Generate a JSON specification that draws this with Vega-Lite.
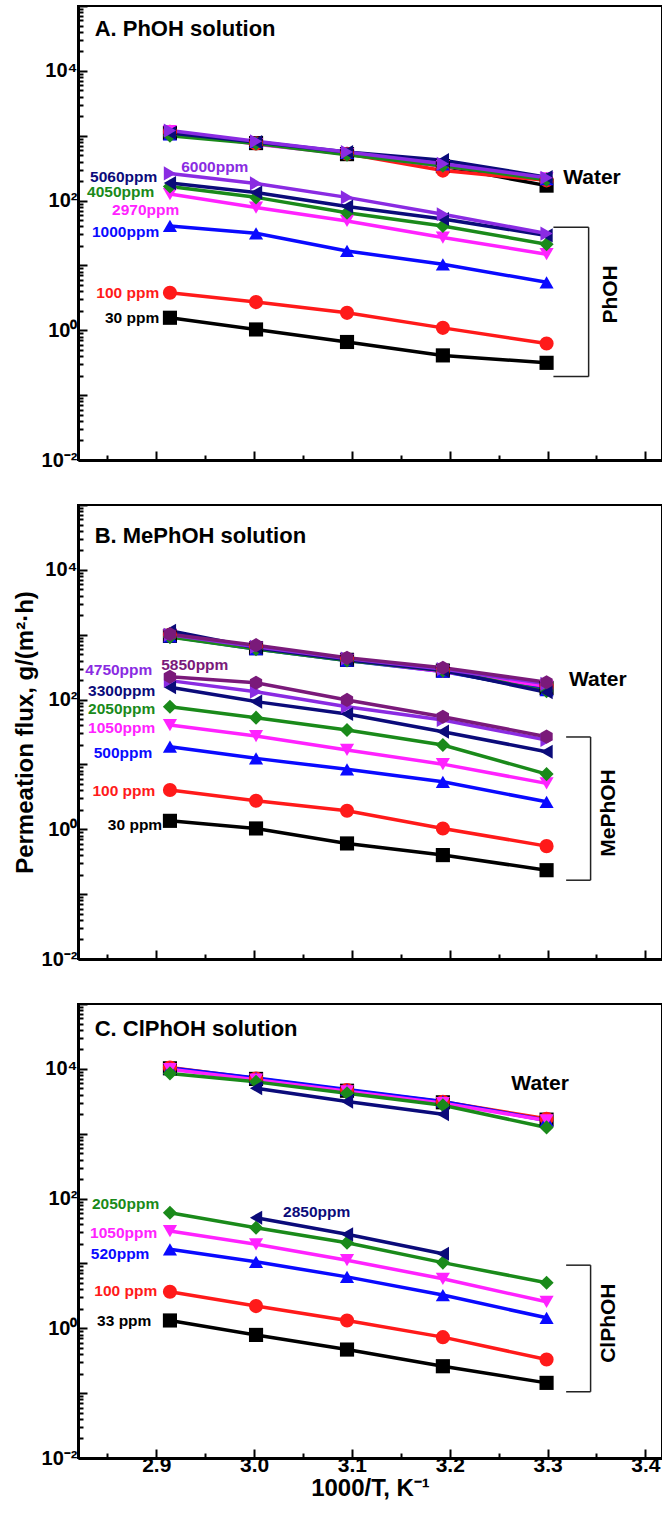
{
"$schema": "https://vega.github.io/schema/vega-lite/v6.json",
"padding": {"left": 12, "top": 4, "right": 0, "bottom": 0},
"spacing": 32,
"config": {
  "view": {"stroke": "black", "strokeWidth": 2},
  "axis": {"grid": false, "domainColor": "black", "domainWidth": 3, "tickColor": "black", "tickWidth": 2, "labelColor": "black", "titleColor": "black", "labelFont": "Liberation Sans", "titleFont": "Liberation Sans", "labelFontWeight": "bold", "titleFontWeight": "bold", "minExtent": 0},
  "text": {"font": "Liberation Sans", "fontWeight": "bold"}
},
"datasets": {
"pts": [
{"p":"A","c":"30 ppm","k":"s","x":2.914,"f":1.56},{"p":"A","c":"30 ppm","k":"s","x":3.002,"f":1.03},{"p":"A","c":"30 ppm","k":"s","x":3.095,"f":0.66},{"p":"A","c":"30 ppm","k":"s","x":3.193,"f":0.41},{"p":"A","c":"30 ppm","k":"s","x":3.299,"f":0.315},
{"p":"A","c":"100 ppm","k":"s","x":2.914,"f":3.79},{"p":"A","c":"100 ppm","k":"s","x":3.002,"f":2.72},{"p":"A","c":"100 ppm","k":"s","x":3.095,"f":1.86},{"p":"A","c":"100 ppm","k":"s","x":3.193,"f":1.09},{"p":"A","c":"100 ppm","k":"s","x":3.299,"f":0.625},
{"p":"A","c":"1000ppm","k":"s","x":2.914,"f":40.6},{"p":"A","c":"1000ppm","k":"s","x":3.002,"f":31.3},{"p":"A","c":"1000ppm","k":"s","x":3.095,"f":16.7},{"p":"A","c":"1000ppm","k":"s","x":3.193,"f":10.4},{"p":"A","c":"1000ppm","k":"s","x":3.299,"f":5.5},
{"p":"A","c":"2970ppm","k":"s","x":2.914,"f":126},{"p":"A","c":"2970ppm","k":"s","x":3.002,"f":78},{"p":"A","c":"2970ppm","k":"s","x":3.095,"f":48.5},{"p":"A","c":"2970ppm","k":"s","x":3.193,"f":26.9},{"p":"A","c":"2970ppm","k":"s","x":3.299,"f":14.9},
{"p":"A","c":"4050ppm","k":"s","x":2.914,"f":165},{"p":"A","c":"4050ppm","k":"s","x":3.002,"f":112},{"p":"A","c":"4050ppm","k":"s","x":3.095,"f":65},{"p":"A","c":"4050ppm","k":"s","x":3.193,"f":40.6},{"p":"A","c":"4050ppm","k":"s","x":3.299,"f":21.2},
{"p":"A","c":"5060ppm","k":"s","x":2.914,"f":186},{"p":"A","c":"5060ppm","k":"s","x":3.002,"f":133},{"p":"A","c":"5060ppm","k":"s","x":3.095,"f":81},{"p":"A","c":"5060ppm","k":"s","x":3.193,"f":52},{"p":"A","c":"5060ppm","k":"s","x":3.299,"f":29},
{"p":"A","c":"6000ppm","k":"s","x":2.914,"f":262},{"p":"A","c":"6000ppm","k":"s","x":3.002,"f":184},{"p":"A","c":"6000ppm","k":"s","x":3.095,"f":112},{"p":"A","c":"6000ppm","k":"s","x":3.193,"f":61.6},{"p":"A","c":"6000ppm","k":"s","x":3.299,"f":31},
{"p":"A","c":"30 ppm","k":"w","x":2.914,"f":1100},{"p":"A","c":"30 ppm","k":"w","x":3.002,"f":770},{"p":"A","c":"30 ppm","k":"w","x":3.095,"f":520},{"p":"A","c":"30 ppm","k":"w","x":3.193,"f":340},{"p":"A","c":"30 ppm","k":"w","x":3.299,"f":170},
{"p":"A","c":"100 ppm","k":"w","x":2.914,"f":1150},{"p":"A","c":"100 ppm","k":"w","x":3.002,"f":760},{"p":"A","c":"100 ppm","k":"w","x":3.095,"f":525},{"p":"A","c":"100 ppm","k":"w","x":3.193,"f":290},{"p":"A","c":"100 ppm","k":"w","x":3.299,"f":205},
{"p":"A","c":"1000ppm","k":"w","x":2.914,"f":1050},{"p":"A","c":"1000ppm","k":"w","x":3.002,"f":800},{"p":"A","c":"1000ppm","k":"w","x":3.095,"f":545},{"p":"A","c":"1000ppm","k":"w","x":3.193,"f":360},{"p":"A","c":"1000ppm","k":"w","x":3.299,"f":215},
{"p":"A","c":"2970ppm","k":"w","x":2.914,"f":1180},{"p":"A","c":"2970ppm","k":"w","x":3.002,"f":740},{"p":"A","c":"2970ppm","k":"w","x":3.095,"f":520},{"p":"A","c":"2970ppm","k":"w","x":3.193,"f":340},{"p":"A","c":"2970ppm","k":"w","x":3.299,"f":220},
{"p":"A","c":"4050ppm","k":"w","x":2.914,"f":1000},{"p":"A","c":"4050ppm","k":"w","x":3.002,"f":760},{"p":"A","c":"4050ppm","k":"w","x":3.095,"f":510},{"p":"A","c":"4050ppm","k":"w","x":3.193,"f":345},{"p":"A","c":"4050ppm","k":"w","x":3.299,"f":210},
{"p":"A","c":"5060ppm","k":"w","x":2.914,"f":1100},{"p":"A","c":"5060ppm","k":"w","x":3.002,"f":800},{"p":"A","c":"5060ppm","k":"w","x":3.095,"f":560},{"p":"A","c":"5060ppm","k":"w","x":3.193,"f":420},{"p":"A","c":"5060ppm","k":"w","x":3.299,"f":230},
{"p":"A","c":"6000ppm","k":"w","x":2.914,"f":1200},{"p":"A","c":"6000ppm","k":"w","x":3.002,"f":820},{"p":"A","c":"6000ppm","k":"w","x":3.095,"f":560},{"p":"A","c":"6000ppm","k":"w","x":3.193,"f":370},{"p":"A","c":"6000ppm","k":"w","x":3.299,"f":225},
{"p":"B","c":"30 ppm","k":"s","x":2.914,"f":1.35},{"p":"B","c":"30 ppm","k":"s","x":3.002,"f":1.03},{"p":"B","c":"30 ppm","k":"s","x":3.095,"f":0.605},{"p":"B","c":"30 ppm","k":"s","x":3.193,"f":0.40},{"p":"B","c":"30 ppm","k":"s","x":3.299,"f":0.234},
{"p":"B","c":"100 ppm","k":"s","x":2.914,"f":4.03},{"p":"B","c":"100 ppm","k":"s","x":3.002,"f":2.75},{"p":"B","c":"100 ppm","k":"s","x":3.095,"f":1.93},{"p":"B","c":"100 ppm","k":"s","x":3.193,"f":1.03},{"p":"B","c":"100 ppm","k":"s","x":3.299,"f":0.55},
{"p":"B","c":"500ppm","k":"s","x":2.914,"f":18.8},{"p":"B","c":"500ppm","k":"s","x":3.002,"f":12.4},{"p":"B","c":"500ppm","k":"s","x":3.095,"f":8.4},{"p":"B","c":"500ppm","k":"s","x":3.193,"f":5.4},{"p":"B","c":"500ppm","k":"s","x":3.299,"f":2.65},
{"p":"B","c":"1050ppm","k":"s","x":2.914,"f":40.5},{"p":"B","c":"1050ppm","k":"s","x":3.002,"f":27.4},{"p":"B","c":"1050ppm","k":"s","x":3.095,"f":16.7},{"p":"B","c":"1050ppm","k":"s","x":3.193,"f":10.1},{"p":"B","c":"1050ppm","k":"s","x":3.299,"f":5.1},
{"p":"B","c":"2050ppm","k":"s","x":2.914,"f":77.6},{"p":"B","c":"2050ppm","k":"s","x":3.002,"f":52.6},{"p":"B","c":"2050ppm","k":"s","x":3.095,"f":34},{"p":"B","c":"2050ppm","k":"s","x":3.193,"f":19.9},{"p":"B","c":"2050ppm","k":"s","x":3.299,"f":7.1},
{"p":"B","c":"3300ppm","k":"s","x":2.914,"f":155},{"p":"B","c":"3300ppm","k":"s","x":3.002,"f":93},{"p":"B","c":"3300ppm","k":"s","x":3.095,"f":60},{"p":"B","c":"3300ppm","k":"s","x":3.193,"f":32},{"p":"B","c":"3300ppm","k":"s","x":3.299,"f":15.7},
{"p":"B","c":"4750ppm","k":"s","x":2.914,"f":196},{"p":"B","c":"4750ppm","k":"s","x":3.002,"f":132},{"p":"B","c":"4750ppm","k":"s","x":3.095,"f":77.6},{"p":"B","c":"4750ppm","k":"s","x":3.193,"f":48.4},{"p":"B","c":"4750ppm","k":"s","x":3.299,"f":23.8},
{"p":"B","c":"5850ppm","k":"s","x":2.914,"f":225},{"p":"B","c":"5850ppm","k":"s","x":3.002,"f":182},{"p":"B","c":"5850ppm","k":"s","x":3.095,"f":98.7},{"p":"B","c":"5850ppm","k":"s","x":3.193,"f":54.4},{"p":"B","c":"5850ppm","k":"s","x":3.299,"f":26.8},
{"p":"B","c":"30 ppm","k":"w","x":2.914,"f":960},{"p":"B","c":"30 ppm","k":"w","x":3.002,"f":620},{"p":"B","c":"30 ppm","k":"w","x":3.095,"f":410},{"p":"B","c":"30 ppm","k":"w","x":3.193,"f":280},{"p":"B","c":"30 ppm","k":"w","x":3.299,"f":150},
{"p":"B","c":"100 ppm","k":"w","x":2.914,"f":1000},{"p":"B","c":"100 ppm","k":"w","x":3.002,"f":650},{"p":"B","c":"100 ppm","k":"w","x":3.095,"f":420},{"p":"B","c":"100 ppm","k":"w","x":3.193,"f":280},{"p":"B","c":"100 ppm","k":"w","x":3.299,"f":160},
{"p":"B","c":"500ppm","k":"w","x":2.914,"f":940},{"p":"B","c":"500ppm","k":"w","x":3.002,"f":600},{"p":"B","c":"500ppm","k":"w","x":3.095,"f":400},{"p":"B","c":"500ppm","k":"w","x":3.193,"f":270},{"p":"B","c":"500ppm","k":"w","x":3.299,"f":140},
{"p":"B","c":"1050ppm","k":"w","x":2.914,"f":980},{"p":"B","c":"1050ppm","k":"w","x":3.002,"f":630},{"p":"B","c":"1050ppm","k":"w","x":3.095,"f":410},{"p":"B","c":"1050ppm","k":"w","x":3.193,"f":270},{"p":"B","c":"1050ppm","k":"w","x":3.299,"f":160},
{"p":"B","c":"2050ppm","k":"w","x":2.914,"f":920},{"p":"B","c":"2050ppm","k":"w","x":3.002,"f":600},{"p":"B","c":"2050ppm","k":"w","x":3.095,"f":400},{"p":"B","c":"2050ppm","k":"w","x":3.193,"f":280},{"p":"B","c":"2050ppm","k":"w","x":3.299,"f":135},
{"p":"B","c":"3300ppm","k":"w","x":2.914,"f":1150},{"p":"B","c":"3300ppm","k":"w","x":3.002,"f":630},{"p":"B","c":"3300ppm","k":"w","x":3.095,"f":410},{"p":"B","c":"3300ppm","k":"w","x":3.193,"f":280},{"p":"B","c":"3300ppm","k":"w","x":3.299,"f":130},
{"p":"B","c":"4750ppm","k":"w","x":2.914,"f":1000},{"p":"B","c":"4750ppm","k":"w","x":3.002,"f":650},{"p":"B","c":"4750ppm","k":"w","x":3.095,"f":430},{"p":"B","c":"4750ppm","k":"w","x":3.193,"f":295},{"p":"B","c":"4750ppm","k":"w","x":3.299,"f":175},
{"p":"B","c":"5850ppm","k":"w","x":2.914,"f":1020},{"p":"B","c":"5850ppm","k":"w","x":3.002,"f":690},{"p":"B","c":"5850ppm","k":"w","x":3.095,"f":440},{"p":"B","c":"5850ppm","k":"w","x":3.193,"f":310},{"p":"B","c":"5850ppm","k":"w","x":3.299,"f":185},
{"p":"C","c":"33 ppm","k":"s","x":2.914,"f":1.32},{"p":"C","c":"33 ppm","k":"s","x":3.002,"f":0.79},{"p":"C","c":"33 ppm","k":"s","x":3.095,"f":0.47},{"p":"C","c":"33 ppm","k":"s","x":3.193,"f":0.26},{"p":"C","c":"33 ppm","k":"s","x":3.299,"f":0.144},
{"p":"C","c":"100 ppm","k":"s","x":2.914,"f":3.66},{"p":"C","c":"100 ppm","k":"s","x":3.002,"f":2.2},{"p":"C","c":"100 ppm","k":"s","x":3.095,"f":1.32},{"p":"C","c":"100 ppm","k":"s","x":3.193,"f":0.73},{"p":"C","c":"100 ppm","k":"s","x":3.299,"f":0.33},
{"p":"C","c":"520ppm","k":"s","x":2.914,"f":16.5},{"p":"C","c":"520ppm","k":"s","x":3.002,"f":10.6},{"p":"C","c":"520ppm","k":"s","x":3.095,"f":6.2},{"p":"C","c":"520ppm","k":"s","x":3.193,"f":3.25},{"p":"C","c":"520ppm","k":"s","x":3.299,"f":1.45},
{"p":"C","c":"1050ppm","k":"s","x":2.914,"f":31.6},{"p":"C","c":"1050ppm","k":"s","x":3.002,"f":19.7},{"p":"C","c":"1050ppm","k":"s","x":3.095,"f":11.2},{"p":"C","c":"1050ppm","k":"s","x":3.193,"f":5.8},{"p":"C","c":"1050ppm","k":"s","x":3.299,"f":2.56},
{"p":"C","c":"2050ppm","k":"s","x":2.914,"f":60.5},{"p":"C","c":"2050ppm","k":"s","x":3.002,"f":35.6},{"p":"C","c":"2050ppm","k":"s","x":3.095,"f":20.9},{"p":"C","c":"2050ppm","k":"s","x":3.193,"f":10.3},{"p":"C","c":"2050ppm","k":"s","x":3.299,"f":5.04},
{"p":"C","c":"2850ppm","k":"s","x":3.002,"f":50.7},{"p":"C","c":"2850ppm","k":"s","x":3.095,"f":28.1},{"p":"C","c":"2850ppm","k":"s","x":3.193,"f":14.1},
{"p":"C","c":"33 ppm","k":"w","x":2.914,"f":10200},{"p":"C","c":"33 ppm","k":"w","x":3.002,"f":7000},{"p":"C","c":"33 ppm","k":"w","x":3.095,"f":4600},{"p":"C","c":"33 ppm","k":"w","x":3.193,"f":3050},{"p":"C","c":"33 ppm","k":"w","x":3.299,"f":1650},
{"p":"C","c":"100 ppm","k":"w","x":2.914,"f":10500},{"p":"C","c":"100 ppm","k":"w","x":3.002,"f":7100},{"p":"C","c":"100 ppm","k":"w","x":3.095,"f":4700},{"p":"C","c":"100 ppm","k":"w","x":3.193,"f":3100},{"p":"C","c":"100 ppm","k":"w","x":3.299,"f":1700},
{"p":"C","c":"520ppm","k":"w","x":2.914,"f":10300},{"p":"C","c":"520ppm","k":"w","x":3.002,"f":7200},{"p":"C","c":"520ppm","k":"w","x":3.095,"f":4800},{"p":"C","c":"520ppm","k":"w","x":3.193,"f":3150},{"p":"C","c":"520ppm","k":"w","x":3.299,"f":1600},
{"p":"C","c":"1050ppm","k":"w","x":2.914,"f":9900},{"p":"C","c":"1050ppm","k":"w","x":3.002,"f":6800},{"p":"C","c":"1050ppm","k":"w","x":3.095,"f":4500},{"p":"C","c":"1050ppm","k":"w","x":3.193,"f":2950},{"p":"C","c":"1050ppm","k":"w","x":3.299,"f":1600},
{"p":"C","c":"2050ppm","k":"w","x":2.914,"f":8500},{"p":"C","c":"2050ppm","k":"w","x":3.002,"f":6300},{"p":"C","c":"2050ppm","k":"w","x":3.095,"f":4200},{"p":"C","c":"2050ppm","k":"w","x":3.193,"f":2750},{"p":"C","c":"2050ppm","k":"w","x":3.299,"f":1250},
{"p":"C","c":"2850ppm","k":"w","x":3.002,"f":5040},{"p":"C","c":"2850ppm","k":"w","x":3.095,"f":3130},{"p":"C","c":"2850ppm","k":"w","x":3.193,"f":2000}
],
"ann": [
{"p":"A","r":"r","c":"5060ppm","t":"5060ppm","x":2.901,"f":232},
{"p":"A","r":"r","c":"4050ppm","t":"4050ppm","x":2.898,"f":134},
{"p":"A","r":"r","c":"2970ppm","t":"2970ppm","x":2.9235,"f":71},
{"p":"A","r":"r","c":"1000ppm","t":"1000ppm","x":2.903,"f":32.8},
{"p":"A","r":"r","c":"100 ppm","t":"100 ppm","x":2.903,"f":3.7},
{"p":"A","r":"r","c":"30 ppm","t":"30 ppm","x":2.903,"f":1.52},
{"p":"A","r":"l","c":"6000ppm","t":"6000ppm","x":2.9255,"f":328},
{"p":"A","r":"w","t":"Water","x":3.316,"f":220},
{"p":"A","r":"g","t":"PhOH","x":3.365,"f":3.57},
{"p":"A","r":"t","t":"A. PhOH solution","x":2.837,"f":44000},
{"p":"B","r":"r","c":"4750ppm","t":"4750ppm","x":2.896,"f":287},
{"p":"B","r":"r","c":"3300ppm","t":"3300ppm","x":2.899,"f":137},
{"p":"B","r":"r","c":"2050ppm","t":"2050ppm","x":2.899,"f":70.8},
{"p":"B","r":"r","c":"1050ppm","t":"1050ppm","x":2.899,"f":36.1},
{"p":"B","r":"r","c":"500ppm","t":"500ppm","x":2.896,"f":15.2},
{"p":"B","r":"r","c":"100 ppm","t":"100 ppm","x":2.899,"f":3.93},
{"p":"B","r":"r","c":"30 ppm","t":"30 ppm","x":2.906,"f":1.16},
{"p":"B","r":"l","c":"5850ppm","t":"5850ppm","x":2.905,"f":342},
{"p":"B","r":"w","t":"Water","x":3.322,"f":200},
{"p":"B","r":"g","t":"MePhOH","x":3.363,"f":1.78},
{"p":"B","r":"t","t":"B. MePhOH solution","x":2.837,"f":33000},
{"p":"C","r":"r","c":"2050ppm","t":"2050ppm","x":2.903,"f":83.4},
{"p":"C","r":"r","c":"1050ppm","t":"1050ppm","x":2.901,"f":29.8},
{"p":"C","r":"r","c":"520ppm","t":"520ppm","x":2.893,"f":13.8},
{"p":"C","r":"r","c":"100 ppm","t":"100 ppm","x":2.901,"f":3.7},
{"p":"C","r":"r","c":"33 ppm","t":"33 ppm","x":2.895,"f":1.3},
{"p":"C","r":"l","c":"2850ppm","t":"2850ppm","x":3.0296,"f":62.8},
{"p":"C","r":"w","t":"Water","x":3.263,"f":5810},
{"p":"C","r":"g","t":"ClPhOH","x":3.363,"f":1.2},
{"p":"C","r":"t","t":"C. ClPhOH solution","x":2.837,"f":41000}
],
"br": [
{"p":"A","x":3.342,"x2":3.342,"f":38.8,"f2":0.193},{"p":"A","x":3.306,"x2":3.342,"f":38.8,"f2":38.8},{"p":"A","x":3.306,"x2":3.342,"f":0.193,"f2":0.193},
{"p":"B","x":3.344,"x2":3.344,"f":26.5,"f2":0.164},{"p":"B","x":3.319,"x2":3.344,"f":26.5,"f2":26.5},{"p":"B","x":3.319,"x2":3.344,"f":0.164,"f2":0.164},
{"p":"C","x":3.344,"x2":3.344,"f":9.4,"f2":0.105},{"p":"C","x":3.319,"x2":3.344,"f":9.4,"f2":9.4},{"p":"C","x":3.319,"x2":3.344,"f":0.105,"f2":0.105}
]
},
"vconcat": [
{
 "width": 584, "height": 454,
 "encoding": {
  "x": {"field": "x", "type": "quantitative", "scale": {"domain": [2.82, 3.417], "nice": false, "zero": false},
   "axis": {"title": null, "labels": false, "values": [2.85,2.9,2.95,3.0,3.05,3.1,3.15,3.2,3.25,3.3,3.35,3.4],
    "tickSize": {"condition": {"test": "abs(datum.value*10-round(datum.value*10))<0.001", "value": -9}, "value": -5}}},
  "y": {"field": "f", "type": "quantitative", "scale": {"type": "log", "domain": [0.01, 100000], "nice": false},
   "axis": {"title": null, "labelFontSize": 20, "labelPadding": 10,
    "values": [0.01,0.02,0.03,0.04,0.05,0.06,0.07,0.08,0.09,0.1,0.2,0.3,0.4,0.5,0.6,0.7,0.8,0.9,1,2,3,4,5,6,7,8,9,10,20,30,40,50,60,70,80,90,100,200,300,400,500,600,700,800,900,1000,2000,3000,4000,5000,6000,7000,8000,9000,10000,20000,30000,40000,50000,60000,70000,80000,90000,100000],
    "labelExpr": "datum.value==0.01?'10⁻²':datum.value==1?'10⁰':datum.value==100?'10²':datum.value==10000?'10⁴':''",
    "tickSize": {"condition": {"test": "abs(log(datum.value)/LN10-round(log(datum.value)/LN10))<0.001", "value": -9}, "value": -5}}}
 },
 "layer": [
  {"data": {"name": "pts"}, "transform": [{"filter": "datum.p=='A'"}], "mark": {"type": "line", "strokeWidth": 3.5},
   "encoding": {"color": {"field": "c", "type": "nominal", "legend": null, "scale": {"domain": ["30 ppm","33 ppm","100 ppm","1000ppm","500ppm","520ppm","2970ppm","1050ppm","4050ppm","2050ppm","5060ppm","3300ppm","2850ppm","6000ppm","4750ppm","5850ppm"], "range": ["#000000","#000000","#ff1a1a","#0a0aff","#0a0aff","#0a0aff","#ff22ff","#ff22ff","#1a8a1a","#1a8a1a","#0b0b7a","#0b0b7a","#0b0b7a","#8a2be2","#8a2be2","#7a1a7a"]}}, "detail": {"field": "k"}}},
  {"data": {"name": "pts"}, "transform": [{"filter": "datum.p=='A'"}], "mark": {"type": "point", "filled": true, "size": 200, "opacity": 1},
   "encoding": {"color": {"field": "c", "type": "nominal", "legend": null}, "shape": {"field": "c", "type": "nominal", "legend": null, "scale": {"domain": ["30 ppm","33 ppm","100 ppm","1000ppm","500ppm","520ppm","2970ppm","1050ppm","4050ppm","2050ppm","5060ppm","3300ppm","2850ppm","6000ppm","4750ppm","5850ppm"], "range": ["square","square","circle","triangle-up","triangle-up","triangle-up","triangle-down","triangle-down","diamond","diamond","triangle-left","triangle-left","triangle-left","triangle-right","triangle-right","M0,-1L0.866,-0.5L0.866,0.5L0,1L-0.866,0.5L-0.866,-0.5Z"]}}}},
  {"data": {"name": "br"}, "transform": [{"filter": "datum.p=='A'"}], "mark": {"type": "rule", "strokeWidth": 1.5, "color": "#222"},
   "encoding": {"x2": {"field": "x2"}, "y2": {"field": "f2"}}},
  {"data": {"name": "ann"}, "transform": [{"filter": "datum.p=='A' && datum.r=='r'"}], "mark": {"type": "text", "align": "right", "baseline": "middle", "fontSize": 15.5},
   "encoding": {"text": {"field": "t"}, "color": {"field": "c", "type": "nominal", "legend": null}}},
  {"data": {"name": "ann"}, "transform": [{"filter": "datum.p=='A' && datum.r=='l'"}], "mark": {"type": "text", "align": "left", "baseline": "middle", "fontSize": 15.5},
   "encoding": {"text": {"field": "t"}, "color": {"field": "c", "type": "nominal", "legend": null}}},
  {"data": {"name": "ann"}, "transform": [{"filter": "datum.p=='A' && datum.r=='w'"}], "mark": {"type": "text", "align": "left", "baseline": "middle", "fontSize": 21, "color": "black"},
   "encoding": {"text": {"field": "t"}}},
  {"data": {"name": "ann"}, "transform": [{"filter": "datum.p=='A' && datum.r=='g'"}], "mark": {"type": "text", "align": "center", "baseline": "middle", "fontSize": 21, "angle": 270, "color": "black"},
   "encoding": {"text": {"field": "t"}}},
  {"data": {"name": "ann"}, "transform": [{"filter": "datum.p=='A' && datum.r=='t'"}], "mark": {"type": "text", "align": "left", "baseline": "middle", "fontSize": 22, "color": "black"},
   "encoding": {"text": {"field": "t"}}}
 ]
},
{
 "width": 584, "height": 454,
 "encoding": {
  "x": {"field": "x", "type": "quantitative", "scale": {"domain": [2.82, 3.417], "nice": false, "zero": false},
   "axis": {"title": null, "labels": false, "values": [2.85,2.9,2.95,3.0,3.05,3.1,3.15,3.2,3.25,3.3,3.35,3.4],
    "tickSize": {"condition": {"test": "abs(datum.value*10-round(datum.value*10))<0.001", "value": -9}, "value": -5}}},
  "y": {"field": "f", "type": "quantitative", "scale": {"type": "log", "domain": [0.01, 100000], "nice": false},
   "axis": {"title": "Permeation flux, g/(m²·h)", "titleFontSize": 24, "titlePadding": 4, "labelFontSize": 20, "labelPadding": 10,
    "values": [0.01,0.02,0.03,0.04,0.05,0.06,0.07,0.08,0.09,0.1,0.2,0.3,0.4,0.5,0.6,0.7,0.8,0.9,1,2,3,4,5,6,7,8,9,10,20,30,40,50,60,70,80,90,100,200,300,400,500,600,700,800,900,1000,2000,3000,4000,5000,6000,7000,8000,9000,10000,20000,30000,40000,50000,60000,70000,80000,90000,100000],
    "labelExpr": "datum.value==0.01?'10⁻²':datum.value==1?'10⁰':datum.value==100?'10²':datum.value==10000?'10⁴':''",
    "tickSize": {"condition": {"test": "abs(log(datum.value)/LN10-round(log(datum.value)/LN10))<0.001", "value": -9}, "value": -5}}}
 },
 "layer": [
  {"data": {"name": "pts"}, "transform": [{"filter": "datum.p=='B'"}], "mark": {"type": "line", "strokeWidth": 3.5},
   "encoding": {"color": {"field": "c", "type": "nominal", "legend": null, "scale": {"domain": ["30 ppm","33 ppm","100 ppm","1000ppm","500ppm","520ppm","2970ppm","1050ppm","4050ppm","2050ppm","5060ppm","3300ppm","2850ppm","6000ppm","4750ppm","5850ppm"], "range": ["#000000","#000000","#ff1a1a","#0a0aff","#0a0aff","#0a0aff","#ff22ff","#ff22ff","#1a8a1a","#1a8a1a","#0b0b7a","#0b0b7a","#0b0b7a","#8a2be2","#8a2be2","#7a1a7a"]}}, "detail": {"field": "k"}}},
  {"data": {"name": "pts"}, "transform": [{"filter": "datum.p=='B'"}], "mark": {"type": "point", "filled": true, "size": 200, "opacity": 1},
   "encoding": {"color": {"field": "c", "type": "nominal", "legend": null}, "shape": {"field": "c", "type": "nominal", "legend": null, "scale": {"domain": ["30 ppm","33 ppm","100 ppm","1000ppm","500ppm","520ppm","2970ppm","1050ppm","4050ppm","2050ppm","5060ppm","3300ppm","2850ppm","6000ppm","4750ppm","5850ppm"], "range": ["square","square","circle","triangle-up","triangle-up","triangle-up","triangle-down","triangle-down","diamond","diamond","triangle-left","triangle-left","triangle-left","triangle-right","triangle-right","M0,-1L0.866,-0.5L0.866,0.5L0,1L-0.866,0.5L-0.866,-0.5Z"]}}}},
  {"data": {"name": "br"}, "transform": [{"filter": "datum.p=='B'"}], "mark": {"type": "rule", "strokeWidth": 1.5, "color": "#222"},
   "encoding": {"x2": {"field": "x2"}, "y2": {"field": "f2"}}},
  {"data": {"name": "ann"}, "transform": [{"filter": "datum.p=='B' && datum.r=='r'"}], "mark": {"type": "text", "align": "right", "baseline": "middle", "fontSize": 15.5},
   "encoding": {"text": {"field": "t"}, "color": {"field": "c", "type": "nominal", "legend": null}}},
  {"data": {"name": "ann"}, "transform": [{"filter": "datum.p=='B' && datum.r=='l'"}], "mark": {"type": "text", "align": "left", "baseline": "middle", "fontSize": 15.5},
   "encoding": {"text": {"field": "t"}, "color": {"field": "c", "type": "nominal", "legend": null}}},
  {"data": {"name": "ann"}, "transform": [{"filter": "datum.p=='B' && datum.r=='w'"}], "mark": {"type": "text", "align": "left", "baseline": "middle", "fontSize": 21, "color": "black"},
   "encoding": {"text": {"field": "t"}}},
  {"data": {"name": "ann"}, "transform": [{"filter": "datum.p=='B' && datum.r=='g'"}], "mark": {"type": "text", "align": "center", "baseline": "middle", "fontSize": 21, "angle": 270, "color": "black"},
   "encoding": {"text": {"field": "t"}}},
  {"data": {"name": "ann"}, "transform": [{"filter": "datum.p=='B' && datum.r=='t'"}], "mark": {"type": "text", "align": "left", "baseline": "middle", "fontSize": 22, "color": "black"},
   "encoding": {"text": {"field": "t"}}}
 ]
},
{
 "width": 584, "height": 454,
 "encoding": {
  "x": {"field": "x", "type": "quantitative", "scale": {"domain": [2.82, 3.417], "nice": false, "zero": false},
   "axis": {"title": "1000/T, K⁻¹", "titleFontSize": 24, "titlePadding": 1, "labelFontSize": 21, "labelPadding": 5, "values": [2.85,2.9,2.95,3.0,3.05,3.1,3.15,3.2,3.25,3.3,3.35,3.4],
    "labelExpr": "abs(datum.value*10-round(datum.value*10))<0.001 ? format(datum.value, '.1f') : ''",
    "tickSize": {"condition": {"test": "abs(datum.value*10-round(datum.value*10))<0.001", "value": -9}, "value": -5}}},
  "y": {"field": "f", "type": "quantitative", "scale": {"type": "log", "domain": [0.01, 100000], "nice": false},
   "axis": {"title": null, "labelFontSize": 20, "labelPadding": 10,
    "values": [0.01,0.02,0.03,0.04,0.05,0.06,0.07,0.08,0.09,0.1,0.2,0.3,0.4,0.5,0.6,0.7,0.8,0.9,1,2,3,4,5,6,7,8,9,10,20,30,40,50,60,70,80,90,100,200,300,400,500,600,700,800,900,1000,2000,3000,4000,5000,6000,7000,8000,9000,10000,20000,30000,40000,50000,60000,70000,80000,90000,100000],
    "labelExpr": "datum.value==0.01?'10⁻²':datum.value==1?'10⁰':datum.value==100?'10²':datum.value==10000?'10⁴':''",
    "tickSize": {"condition": {"test": "abs(log(datum.value)/LN10-round(log(datum.value)/LN10))<0.001", "value": -9}, "value": -5}}}
 },
 "layer": [
  {"data": {"name": "pts"}, "transform": [{"filter": "datum.p=='C'"}], "mark": {"type": "line", "strokeWidth": 3.5},
   "encoding": {"color": {"field": "c", "type": "nominal", "legend": null, "scale": {"domain": ["30 ppm","33 ppm","100 ppm","1000ppm","500ppm","520ppm","2970ppm","1050ppm","4050ppm","2050ppm","5060ppm","3300ppm","2850ppm","6000ppm","4750ppm","5850ppm"], "range": ["#000000","#000000","#ff1a1a","#0a0aff","#0a0aff","#0a0aff","#ff22ff","#ff22ff","#1a8a1a","#1a8a1a","#0b0b7a","#0b0b7a","#0b0b7a","#8a2be2","#8a2be2","#7a1a7a"]}}, "detail": {"field": "k"}}},
  {"data": {"name": "pts"}, "transform": [{"filter": "datum.p=='C'"}], "mark": {"type": "point", "filled": true, "size": 200, "opacity": 1},
   "encoding": {"color": {"field": "c", "type": "nominal", "legend": null}, "shape": {"field": "c", "type": "nominal", "legend": null, "scale": {"domain": ["30 ppm","33 ppm","100 ppm","1000ppm","500ppm","520ppm","2970ppm","1050ppm","4050ppm","2050ppm","5060ppm","3300ppm","2850ppm","6000ppm","4750ppm","5850ppm"], "range": ["square","square","circle","triangle-up","triangle-up","triangle-up","triangle-down","triangle-down","diamond","diamond","triangle-left","triangle-left","triangle-left","triangle-right","triangle-right","M0,-1L0.866,-0.5L0.866,0.5L0,1L-0.866,0.5L-0.866,-0.5Z"]}}}},
  {"data": {"name": "br"}, "transform": [{"filter": "datum.p=='C'"}], "mark": {"type": "rule", "strokeWidth": 1.5, "color": "#222"},
   "encoding": {"x2": {"field": "x2"}, "y2": {"field": "f2"}}},
  {"data": {"name": "ann"}, "transform": [{"filter": "datum.p=='C' && datum.r=='r'"}], "mark": {"type": "text", "align": "right", "baseline": "middle", "fontSize": 15.5},
   "encoding": {"text": {"field": "t"}, "color": {"field": "c", "type": "nominal", "legend": null}}},
  {"data": {"name": "ann"}, "transform": [{"filter": "datum.p=='C' && datum.r=='l'"}], "mark": {"type": "text", "align": "left", "baseline": "middle", "fontSize": 15.5},
   "encoding": {"text": {"field": "t"}, "color": {"field": "c", "type": "nominal", "legend": null}}},
  {"data": {"name": "ann"}, "transform": [{"filter": "datum.p=='C' && datum.r=='w'"}], "mark": {"type": "text", "align": "left", "baseline": "middle", "fontSize": 21, "color": "black"},
   "encoding": {"text": {"field": "t"}}},
  {"data": {"name": "ann"}, "transform": [{"filter": "datum.p=='C' && datum.r=='g'"}], "mark": {"type": "text", "align": "center", "baseline": "middle", "fontSize": 21, "angle": 270, "color": "black"},
   "encoding": {"text": {"field": "t"}}},
  {"data": {"name": "ann"}, "transform": [{"filter": "datum.p=='C' && datum.r=='t'"}], "mark": {"type": "text", "align": "left", "baseline": "middle", "fontSize": 22, "color": "black"},
   "encoding": {"text": {"field": "t"}}}
 ]
}
]
}
